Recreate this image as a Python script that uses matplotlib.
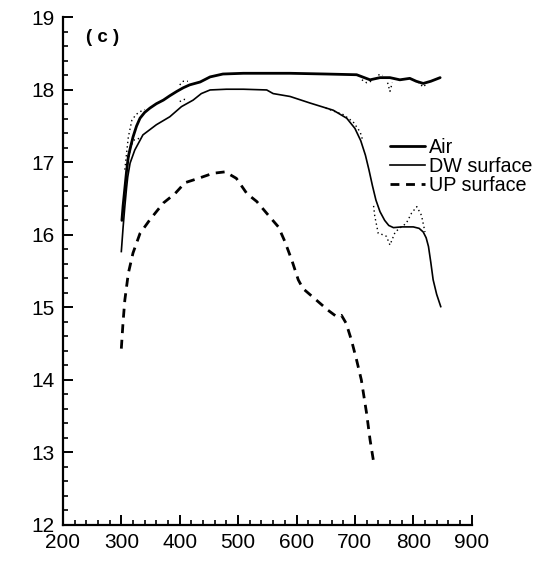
import matplotlib
matplotlib.use("Agg")
import matplotlib.pyplot as plt
from matplotlib.ticker import MultipleLocator
import numpy as np

plt.rcParams['font.family'] = ['Liberation Sans', 'DejaVu Sans']

nan = np.nan

# Air (thick solid)
air_x = [301, 303, 306, 309, 312, 316, 320, 326, 332, 340, 349, 360, 372, 383, 395, 406, 417, 426, 435, 452, 474, 509, 550, 589, 650, 703, 726, 743, 760, 777, 794, 805, 817, 830, 846]
air_y = [16.2, 16.4, 16.64, 16.88, 17.08, 17.22, 17.35, 17.5, 17.61, 17.69, 17.75, 17.81, 17.86, 17.92, 17.98, 18.03, 18.07, 18.09, 18.11, 18.18, 18.22, 18.23, 18.23, 18.23, 18.22, 18.21, 18.14, 18.17, 18.17, 18.14, 18.16, 18.12, 18.09, 18.12, 18.17]

# DW surface (thin solid)
dw_x = [300, 303, 306, 309, 311, 315, 323, 337, 360, 383, 403, 423, 437, 452, 480, 509, 549, 560, 589, 623, 663, 686, 700, 710, 718, 724, 730, 736, 743, 751, 758, 766, 780, 800, 810, 817, 822, 826, 830, 834, 840, 847]
dw_y = [15.77, 16.1, 16.39, 16.65, 16.8, 16.99, 17.17, 17.38, 17.52, 17.63, 17.77, 17.86, 17.95, 18.0, 18.01, 18.01, 18.0, 17.95, 17.91, 17.82, 17.72, 17.61, 17.47, 17.3, 17.1, 16.9, 16.68, 16.48, 16.32, 16.2, 16.13, 16.1, 16.11, 16.11, 16.09, 16.04, 15.96, 15.84, 15.62, 15.38, 15.18, 15.01]

# UP surface (dashed)
up_x = [300, 303, 306, 312, 320, 332, 349, 372, 392, 409, 432, 457, 478, 497, 515, 532, 554, 569, 580, 592, 603, 611, 634, 654, 669, 677, 685, 694, 703, 711, 720, 726, 733]
up_y = [14.43, 14.8, 15.1, 15.47, 15.75, 16.02, 16.21, 16.44, 16.57, 16.72, 16.78, 16.85, 16.87, 16.78, 16.57, 16.46, 16.25, 16.11, 15.91, 15.65, 15.38, 15.26, 15.1, 14.96, 14.87, 14.89, 14.78, 14.55, 14.27, 14.0, 13.54, 13.17, 12.82]

# raw (dotted) data deviating from the smoothed curves, segments separated by nan
air_raw_x = [306, 312, 318, 325, 332, 340, nan, 400, 406, 414, nan, 712, 720, 728, nan, 740, 748, nan, 756, 760, 764, nan, 808, 817, 824]
air_raw_y = [16.9, 17.35, 17.58, 17.66, 17.7, 17.73, nan, 18.07, 18.12, 18.12, nan, 18.14, 18.1, 18.12, nan, 18.21, 18.2, nan, 18.1, 17.98, 18.1, nan, 18.11, 18.04, 18.1]
dw_raw_x = [310, 316, 322, 328, 334, nan, 400, 408, 414, nan, 650, 663, 680, 697, 709, 714, nan, 732, 734, 740, 749, 754, 760, 765, 769, 778, 788, 797, 806, 814, 820]
dw_raw_y = [16.95, 17.22, 17.31, 17.32, 17.36, nan, 17.84, 17.87, 17.86, nan, 17.75, 17.71, 17.66, 17.56, 17.42, 17.29, nan, 16.4, 16.26, 16.02, 16.0, 15.98, 15.86, 15.96, 16.04, 16.1, 16.16, 16.3, 16.39, 16.27, 16.04]

labels = ["Air", "DW surface", "UP surface"]

fig = plt.figure(figsize=(5.52, 5.68), dpi=100)
ax = fig.add_axes([0.114, 0.0762, 0.7405, 0.893])

ax.plot(air_raw_x, air_raw_y, ls=(0, (1, 2.2)), color='black', lw=1.0)
ax.plot(dw_raw_x, dw_raw_y, ls=(0, (1, 2.2)), color='black', lw=1.0)
ax.plot(air_x, air_y, color='black', lw=2.0, label=labels[0], solid_capstyle='round')
ax.plot(dw_x, dw_y, color='black', lw=1.2, label=labels[1])
ax.plot(up_x, up_y, color='black', lw=2.0, ls=(0, (3.2, 2.4)), label=labels[2])

ax.set_xlim(200, 900)
ax.set_ylim(12, 19)
ax.xaxis.set_major_locator(MultipleLocator(100))
ax.xaxis.set_minor_locator(MultipleLocator(20))
ax.yaxis.set_major_locator(MultipleLocator(1))
ax.yaxis.set_minor_locator(MultipleLocator(0.2))
ax.spines['top'].set_visible(False)
ax.spines['right'].set_visible(False)
for s in ['left', 'bottom']:
    ax.spines[s].set_linewidth(1.6)
ax.tick_params(which='major', direction='in', length=7, width=1.4, labelsize=15, pad=6)
ax.tick_params(which='minor', direction='in', length=3.5, width=1.2)

ax.text(0.057, 0.96, "( c )", transform=ax.transAxes, fontsize=13.5, fontweight='bold', va='center')

leg = ax.legend(loc='upper left', bbox_to_anchor=(0.80, 0.762), frameon=False, fontsize=14.2,
                handlelength=1.8, handletextpad=0.2, labelspacing=0.0, borderpad=0,
                borderaxespad=0)

fig.savefig("out.png", dpi=100)
